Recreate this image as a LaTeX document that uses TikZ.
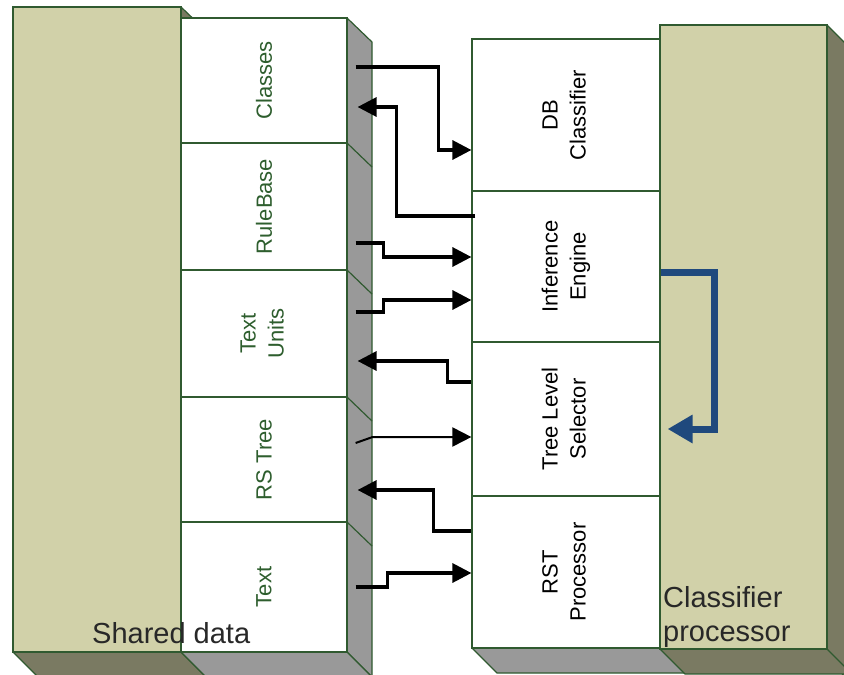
\documentclass[tikz,border=0pt]{standalone}
\usepackage{fontspec}
\setmainfont{Liberation Sans}
\usetikzlibrary{arrows.meta}
\definecolor{tanfill}{RGB}{209,209,169}
\definecolor{olivefill}{RGB}{122,122,98}
\definecolor{sidegray}{RGB}{153,153,153}
\definecolor{edgegreen}{RGB}{48,90,48}
\definecolor{celltext}{RGB}{46,94,46}
\definecolor{flowblue}{RGB}{31,73,125}
\definecolor{labelgray}{RGB}{40,40,40}
\begin{document}
\begin{tikzpicture}[x=1pt,y=-1pt,
  face/.style={draw=edgegreen, line width=1.2pt, line join=round},
  block/.style={draw=edgegreen, line width=1.2pt, fill=tanfill, inner sep=0pt},
  cellbase/.style={draw=edgegreen, line width=1.2pt, fill=white, inner sep=0pt,
    font=\fontsize{22}{28}\selectfont},
  lcell/.style={cellbase, minimum width=166pt, text=celltext},
  rcell/.style={cellbase, minimum width=188pt, text=black},
  conn/.style={line width=3.3pt, -{Triangle[length=19pt,width=19pt]}},
  thinconn/.style={line width=2pt, -{Triangle[length=19pt,width=19pt]}},
  blueconn/.style={draw=flowblue, line width=7pt, -{Triangle[length=25pt,width=27pt]}},
  biglabel/.style={font=\fontsize{29}{34}\selectfont, text=labelgray, inner sep=0pt}
]
\useasboundingbox (0,0) rectangle (844,675);
\clip (0,0) rectangle (844,675);

% ---------- left tan block (shared data) ----------
\filldraw[face, fill=olivefill] (181,7) -- (206,31) -- (206,690) -- (181,652) -- cycle;
\filldraw[face, fill=olivefill] (13,652) -- (181,652) -- (206,677) -- (38,677) -- cycle;
\node[block, minimum width=168pt, minimum height=645pt] (sharedblk) at (97,329.5) {};

% ---------- left column faces ----------
\filldraw[face, fill=sidegray] (347,18) -- (372,42) -- (372,677) -- (347,652) -- cycle;
\filldraw[face, fill=sidegray] (181,652) -- (347,652) -- (372,677) -- (206,677) -- cycle;
\foreach \yy in {143,270,397,522} \draw[face] (347,\yy) -- (372,\yy+24);

% ---------- left column cells ----------
\node[lcell, minimum height=125pt] (classes)   at (264,80.5)  {\rotatebox{90}{Classes}};
\node[lcell, minimum height=127pt] (rulebase)  at (264,206.5) {\rotatebox{90}{RuleBase}};
\node[lcell, minimum height=127pt] (textunits) at (264,333.5) {\rotatebox{90}{\begin{tabular}{@{}c@{}}Text\\Units\end{tabular}}};
\node[lcell, minimum height=125pt] (rstree)    at (264,459.5) {\rotatebox{90}{RS Tree}};
\node[lcell, minimum height=130pt] (text)      at (264,587)   {\rotatebox{90}{Text}};

% ---------- right column bottom face ----------
\filldraw[face, fill=sidegray] (472,648) -- (660,648) -- (685,673) -- (497,673) -- cycle;

% ---------- right tan block (classifier processor) ----------
\filldraw[face, fill=olivefill] (827,25) -- (852,50) -- (852,690) -- (827,649) -- cycle;
\filldraw[face, fill=olivefill] (660,649) -- (827,649) -- (852,674) -- (685,674) -- cycle;
\node[block, minimum width=167pt, minimum height=624pt] (classblk) at (743.5,337) {};

% ---------- right column cells ----------
\node[rcell, minimum height=152pt] (dbc)   at (566,115)   {\rotatebox{90}{\begin{tabular}{@{}c@{}}DB\\Classifier\end{tabular}}};
\node[rcell, minimum height=151pt] (infer) at (566,266.5) {\rotatebox{90}{\begin{tabular}{@{}c@{}}Inference\\Engine\end{tabular}}};
\node[rcell, minimum height=154pt] (tls)   at (566,419)   {\rotatebox{90}{\begin{tabular}{@{}c@{}}Tree Level\\Selector\end{tabular}}};
\node[rcell, minimum height=152pt] (rstp)  at (566,572)   {\rotatebox{90}{\begin{tabular}{@{}c@{}}RST\\Processor\end{tabular}}};

% ---------- labels ----------
\node[biglabel, anchor=base west] (sharedlbl) at (92,643) {Shared data};
\node[biglabel, anchor=north west, align=left] (classlbl) at (663,586) {Classifier\\processor};

% ---------- connectors ----------
\draw[conn] ([shift={(8,-13.5)}]classes.east) -| ([shift={(-33,35)}]dbc.west) -- ([shift={(0,35)}]dbc.west);
\draw[conn] ([shift={(4,-50.5)}]infer.west) -| ([shift={(49,26.5)}]classes.east) -- ([shift={(10,26.5)}]classes.east);
\draw[conn] ([shift={(8,36.5)}]rulebase.east) -| ([shift={(-88,-9.5)}]infer.west) -- ([shift={(0,-9.5)}]infer.west);
\draw[conn] ([shift={(8,-21.5)}]textunits.east) -| ([shift={(-88,33.5)}]infer.west) -- ([shift={(0,33.5)}]infer.west);
\draw[conn] ([shift={(0,-37)}]tls.west) -| ([shift={(100,27.5)}]textunits.east) -- ([shift={(10,27.5)}]textunits.east);
\draw[thinconn] ([shift={(8,-16.5)}]rstree.east) -- ([shift={(25,-22.5)}]rstree.east) -- ([shift={(0,18)}]tls.west);
\draw[conn] ([shift={(0,-41)}]rstp.west) -| ([shift={(86,30.5)}]rstree.east) -- ([shift={(10,30.5)}]rstree.east);
\draw[conn] ([shift={(8,0)}]text.east) -| ([shift={(-84,1)}]rstp.west) -- ([shift={(0,1)}]rstp.west);
\draw[blueconn] ([shift={(0,5.5)}]infer.east) -| ([shift={(54,10)}]tls.east) -- ([shift={(7,10)}]tls.east);
\end{tikzpicture}
\end{document}
